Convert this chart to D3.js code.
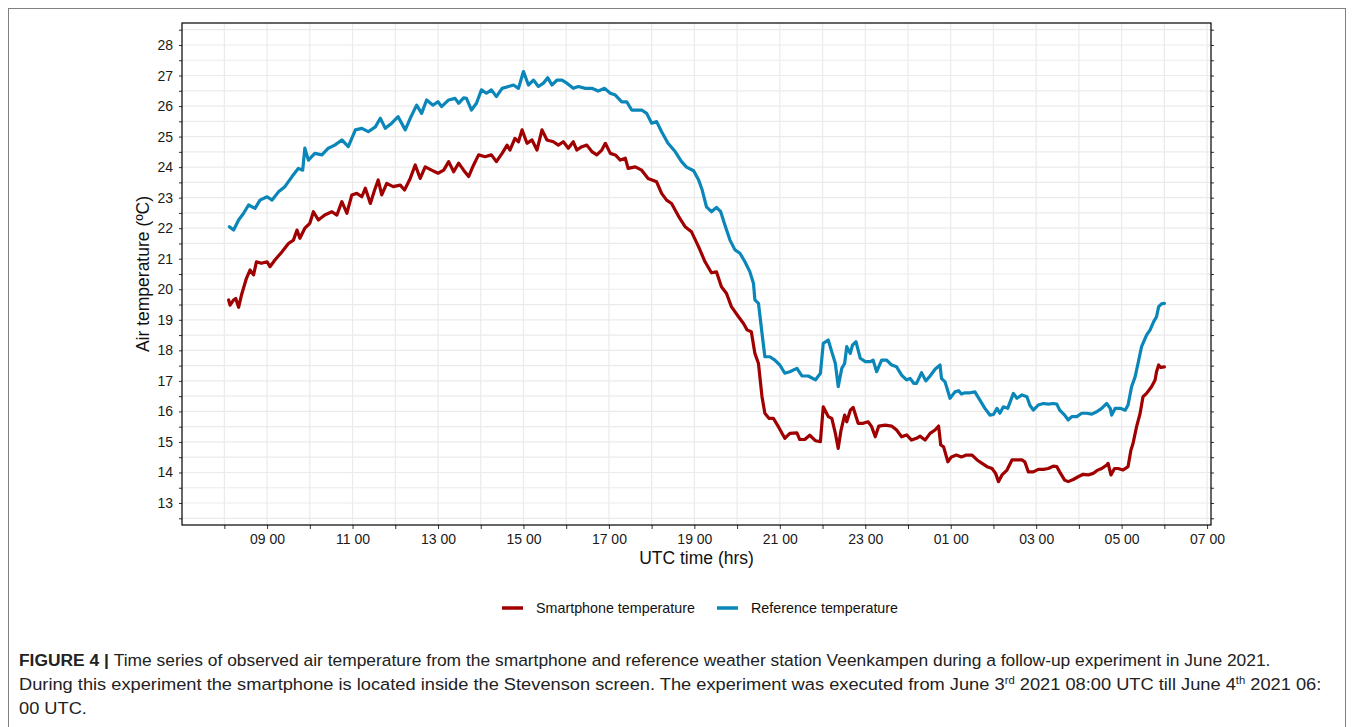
<!DOCTYPE html>
<html>
<head>
<meta charset="utf-8">
<script src="https://cdn.jsdelivr.net/npm/d3@7"></script>
<style>
	body { margin: 0; background: #fff; }
	svg { display: block; font-family: "Liberation Sans", Arial, Helvetica, sans-serif; }
</style>
</head>
<body>
<svg id="chart" width="1354" height="727"></svg>
<script>
// minutes after 2021-06-03 08:00 UTC
const refMinutes = [7, 13, 20, 27, 34, 43, 50, 60, 67, 76, 85, 95, 104, 110, 113, 118, 127, 137, 146, 155,
	165, 174, 184, 193, 202, 212, 219, 226, 235, 244, 254, 261, 270, 277, 284, 293, 300, 305, 315, 324,
	329, 336, 340, 347, 354, 361, 368, 375, 382, 390, 399, 406, 413, 420, 427, 434, 441, 448, 454, 460,
	467, 474, 481, 490, 497, 507, 516, 525, 534, 542, 549, 558, 565, 572, 586, 593, 600, 607, 614, 623,
	633, 642, 649, 659, 666, 671, 677, 684, 691, 697, 703, 710, 717, 724, 731, 738, 743, 745, 750, 755,
	759, 766, 773, 780, 787, 794, 804, 811, 820, 830, 837, 841, 848, 853, 858, 862, 867, 871, 874, 879,
	882, 887, 893, 900, 907, 911, 916, 923, 930, 937, 944, 951, 958, 963, 968, 972, 979, 985, 991, 998,
	1005, 1007, 1012, 1019, 1026, 1031, 1035, 1040, 1047, 1054, 1061, 1068, 1075, 1080, 1085, 1089, 1094, 1100, 1108, 1113,
	1120, 1127, 1131, 1136, 1143, 1150, 1157, 1164, 1169, 1173, 1180, 1185, 1190, 1197, 1204, 1211, 1218, 1225, 1232, 1239,
	1244, 1246, 1251, 1258, 1265, 1269, 1274, 1279, 1283, 1288, 1295, 1300, 1305, 1309, 1312, 1316, 1320];
const refTemps = [22.05, 21.94, 22.27, 22.49, 22.76, 22.65, 22.92, 23.03, 22.92, 23.19, 23.36, 23.69, 23.96, 23.9, 24.62, 24.23, 24.45, 24.4, 24.62, 24.72,
	24.89, 24.67, 25.22, 25.27, 25.16, 25.32, 25.6, 25.27, 25.44, 25.65, 25.22, 25.6, 26.03, 25.76, 26.2, 26.03, 26.14, 25.98, 26.2, 26.25,
	26.09, 26.27, 26.25, 25.87, 26.09, 26.53, 26.42, 26.53, 26.31, 26.58, 26.64, 26.69, 26.58, 27.13, 26.69, 26.85, 26.64, 26.75, 26.93, 26.69,
	26.85, 26.85, 26.75, 26.58, 26.64, 26.58, 26.58, 26.49, 26.58, 26.42, 26.36, 26.14, 26.14, 25.87, 25.87, 25.76, 25.44, 25.49, 25.16, 24.78,
	24.51, 24.18, 24.0, 23.88, 23.58, 23.25, 22.7, 22.54, 22.68, 22.54, 22.1, 21.61, 21.29, 21.18, 20.9, 20.57, 20.19, 19.65, 19.54, 18.56,
	17.79, 17.79, 17.68, 17.52, 17.25, 17.3, 17.41, 17.16, 17.16, 17.03, 17.25, 18.23, 18.34, 17.95, 17.57, 16.81, 17.41, 17.57, 18.12, 17.9,
	18.17, 18.28, 17.74, 17.63, 17.63, 17.68, 17.3, 17.68, 17.68, 17.52, 17.46, 17.19, 17.03, 17.08, 16.92, 16.92, 17.27, 17.0, 17.16, 17.38,
	17.52, 17.08, 16.97, 16.43, 16.64, 16.68, 16.57, 16.61, 16.61, 16.64, 16.37, 16.1, 15.88, 15.9, 16.1, 15.94, 16.15, 16.1, 16.59, 16.43,
	16.54, 16.48, 16.21, 16.04, 16.21, 16.26, 16.24, 16.26, 16.24, 16.04, 15.88, 15.72, 15.83, 15.83, 15.94, 15.94, 15.91, 15.99, 16.1, 16.26,
	16.1, 15.88, 16.1, 16.1, 16.04, 16.21, 16.81, 17.14, 17.57, 18.12, 18.5, 18.67, 18.94, 19.1, 19.43, 19.52, 19.54];

const phoneMinutes = [6, 8, 13, 16, 20, 24, 31, 36, 41, 45, 52, 60, 64, 71, 81, 90, 97, 102, 106, 113,
	120, 125, 132, 141, 151, 158, 165, 172, 179, 186, 193, 198, 205, 211, 216, 221, 228, 237, 247, 253,
	261, 268, 275, 282, 291, 300, 308, 315, 322, 329, 336, 343, 350, 357, 366, 375, 382, 390, 397, 401,
	408, 413, 418, 425, 432, 439, 446, 453, 462, 469, 476, 483, 490, 495, 502, 509, 516, 523, 530, 535,
	542, 549, 556, 563, 567, 577, 586, 595, 607, 614, 621, 628, 638, 647, 656, 666, 675, 684, 691, 698,
	705, 712, 722, 729, 734, 740, 745, 750, 755, 759, 765, 771, 778, 787, 794, 804, 808, 815, 822, 830,
	837, 841, 848, 853, 858, 862, 866, 871, 874, 879, 883, 890, 897, 904, 909, 914, 919, 928, 937, 944,
	951, 958, 965, 972, 977, 984, 991, 998, 1003, 1006, 1010, 1016, 1021, 1028, 1035, 1042, 1050, 1057, 1064, 1071,
	1078, 1083, 1087, 1092, 1099, 1106, 1113, 1120, 1124, 1129, 1136, 1143, 1150, 1157, 1164, 1169, 1173, 1180, 1185, 1192,
	1199, 1206, 1213, 1220, 1225, 1232, 1239, 1241, 1245, 1250, 1255, 1262, 1269, 1273, 1276, 1281, 1286, 1290, 1295, 1302,
	1307, 1309, 1312, 1315, 1320];
const phoneTemps = [19.65, 19.48, 19.65, 19.7, 19.41, 19.81, 20.36, 20.63, 20.47, 20.9, 20.85, 20.9, 20.74, 20.96, 21.23, 21.5, 21.61, 21.94, 21.67, 22.0,
	22.16, 22.54, 22.27, 22.43, 22.54, 22.43, 22.87, 22.49, 23.09, 23.14, 23.03, 23.31, 22.81, 23.25, 23.58, 23.09, 23.47, 23.36, 23.41, 23.25,
	23.63, 24.07, 23.63, 24.01, 23.9, 23.8, 23.9, 24.18, 23.85, 24.13, 23.9, 23.69, 24.07, 24.4, 24.34, 24.4, 24.18, 24.45, 24.72, 24.56,
	24.94, 24.83, 25.22, 24.78, 24.89, 24.56, 25.22, 24.89, 24.83, 24.72, 24.83, 24.62, 24.83, 24.56, 24.67, 24.72, 24.51, 24.4, 24.56, 24.78,
	24.45, 24.4, 24.23, 24.29, 23.96, 24.01, 23.9, 23.63, 23.52, 23.14, 22.92, 22.81, 22.38, 22.05, 21.88, 21.39, 20.9, 20.54, 20.57, 20.08,
	19.87, 19.43, 19.1, 18.88, 18.67, 18.61, 17.9, 17.57, 16.48, 15.94, 15.77, 15.77, 15.5, 15.12, 15.28, 15.3, 15.08, 15.08, 15.22, 15.04,
	15.01, 16.15, 15.83, 15.77, 15.28, 14.79, 15.39, 15.88, 15.66, 16.04, 16.13, 15.61, 15.61, 15.66, 15.5, 15.17, 15.52, 15.55, 15.52, 15.39,
	15.17, 15.23, 15.06, 15.12, 15.19, 15.06, 15.28, 15.39, 15.52, 14.9, 14.84, 14.35, 14.51, 14.57, 14.51, 14.57, 14.57, 14.41, 14.3, 14.19,
	14.13, 13.97, 13.7, 13.92, 14.08, 14.41, 14.41, 14.41, 14.35, 14.02, 14.02, 14.1, 14.1, 14.13, 14.21, 14.19, 14.02, 13.75, 13.7, 13.77,
	13.86, 13.94, 13.92, 13.97, 14.06, 14.13, 14.24, 14.3, 13.92, 14.13, 14.13, 14.08, 14.19, 14.73, 14.95, 15.5, 15.94, 16.48, 16.59, 16.81,
	17.03, 17.3, 17.52, 17.44, 17.46];

const seriesNames = ['Smartphone temperature', 'Reference temperature'];
const seriesColors = ['#a00000', '#0a86b9'];
const yTickValues = d3.range(12.5, 28.6, 0.5);

const startMs = Date.UTC(2021, 5, 3, 8, 0);
const toPoints = (mins, temps) => mins.map((m, i) => ({ t: new Date(startMs + m * 60000), v: temps[i] }));
const series = [toPoints(phoneMinutes, phoneTemps), toPoints(refMinutes, refTemps)];

const svg = d3.select('#chart');
const panel = { left: 182, top: 23, right: 1211, bottom: 525 };

// outer frame of the figure
svg.append('rect')
	.attr('x', 8.5).attr('y', 8.5)
	.attr('width', 1337).attr('height', 740)
	.attr('fill', 'none').attr('stroke', '#808080').attr('stroke-width', 1);

const x = d3.scaleUtc()
	.domain([new Date(Date.UTC(2021, 5, 3, 7, 0, 30)), new Date(Date.UTC(2021, 5, 4, 7, 5, 30))])
	.range([panel.left, panel.right]);
const y = d3.scaleLinear()
	.domain([12.28, 28.72])
	.range([panel.bottom, panel.top]);

// grid
const grid = svg.append('g').attr('stroke', '#ebebeb').attr('stroke-width', 1.2);
grid.selectAll('line.v')
	.data(d3.utcHour.range(x.domain()[0], x.domain()[1]))
	.enter().append('line')
		.attr('x1', d => x(d)).attr('x2', d => x(d))
		.attr('y1', panel.top).attr('y2', panel.bottom);
grid.selectAll('line.h')
	.data(yTickValues)
	.enter().append('line')
		.attr('x1', panel.left).attr('x2', panel.right)
		.attr('y1', d => y(d)).attr('y2', d => y(d));

// axes
const xAxis = d3.axisBottom(x)
	.ticks(d3.utcHour.every(1))
	.tickSize(4)
	.tickPadding(5)
	.tickFormat(d => d.getUTCHours() % 2 ? d3.utcFormat('%H %M')(d) : '');
const gx = svg.append('g').attr('transform', `translate(0,${panel.bottom})`).call(xAxis);

const yAxis = d3.axisLeft(y)
	.tickValues(yTickValues)
	.tickSize(3)
	.tickPadding(6)
	.tickFormat(d => Number.isInteger(d) ? d : '');
const gy = svg.append('g').attr('transform', `translate(${panel.left},0)`).call(yAxis);

const gyr = svg.append('g').attr('transform', `translate(${panel.right},0)`)
	.call(d3.axisRight(y).tickValues(yTickValues).tickSize(3).tickFormat(''));

[gx, gy, gyr].forEach(g => {
	g.select('.domain').remove();
	g.selectAll('.tick line').attr('stroke', '#333');
	g.selectAll('.tick text')
		.attr('fill', '#1a1a1a')
		.style('font-size', '14px')
		.style('font-family', '"Liberation Sans", Arial, sans-serif');
});

// panel border
svg.append('rect')
	.attr('x', panel.left).attr('y', panel.top)
	.attr('width', panel.right - panel.left).attr('height', panel.bottom - panel.top)
	.attr('fill', 'none').attr('stroke', '#000').attr('stroke-width', 1.2);

// lines
const line = d3.line()
	.x(d => x(d.t))
	.y(d => y(d.v));

svg.append('g').selectAll('path')
	.data(series)
	.enter().append('path')
		.attr('d', line)
		.attr('fill', 'none')
		.attr('stroke', (d, i) => seriesColors[i])
		.attr('stroke-width', 3.2)
		.attr('stroke-linejoin', 'round')
		.attr('stroke-linecap', 'round');

// axis titles
svg.append('text')
	.attr('x', (panel.left + panel.right) / 2).attr('y', 564)
	.attr('text-anchor', 'middle')
	.style('font-size', '17.5px').attr('fill', '#111')
	.text('UTC time (hrs)');
svg.append('text')
	.attr('transform', `translate(149,${(panel.top + panel.bottom) / 2}) rotate(-90)`)
	.attr('text-anchor', 'middle')
	.style('font-size', '17.5px').attr('fill', '#111')
	.text('Air temperature (ºC)');

// legend
const legendX = [502, 717];
const legend = svg.append('g').selectAll('g')
	.data(seriesNames)
	.enter().append('g')
		.attr('transform', (d, i) => `translate(${legendX[i]},608)`);
legend.append('line')
	.attr('x1', 0).attr('x2', 21)
	.attr('stroke', (d, i) => seriesColors[i])
	.attr('stroke-width', 3.5);
legend.append('text')
	.attr('x', 34).attr('y', 5)
	.style('font-size', '14.3px').attr('fill', '#111')
	.text(d => d);

// caption (narrow look: larger type squeezed to the reference width)
const capFont = '"Liberation Sans Narrow", "Liberation Sans", Arial, sans-serif';
function captionLine (yPos, parts, targetWidth, fixedScale) {
	const g = svg.append('g').attr('transform', `translate(19,${yPos})`);
	const t = g.append('text').style('font-family', capFont).style('font-size', '17px').attr('fill', '#222');
	parts.forEach(p => {
		const ts = t.append('tspan').text(p.s);
		if (p.bold) ts.attr('font-weight', 'bold');
		if (p.sup) ts.attr('baseline-shift', 'super').style('font-size', '10.5px');
	});
	const w = t.node().getComputedTextLength();
	const sx = fixedScale || targetWidth / w;
	t.attr('transform', `scale(${sx},1)`);
	return sx;
}
captionLine(666, [
	{ s: 'FIGURE 4 | ', bold: true },
	{ s: 'Time series of observed air temperature from the smartphone and reference weather station Veenkampen during a follow-up experiment in June 2021.' }
], 1253);
const sx2 = captionLine(690, [
	{ s: 'During this experiment the smartphone is located inside the Stevenson screen. The experiment was executed from June 3' },
	{ s: 'rd', sup: true },
	{ s: ' 2021 08:00 UTC till June 4' },
	{ s: 'th', sup: true },
	{ s: ' 2021 06:' }
], 1304);
captionLine(714, [{ s: '00 UTC.' }], null, sx2);
</script>
</body>
</html>
